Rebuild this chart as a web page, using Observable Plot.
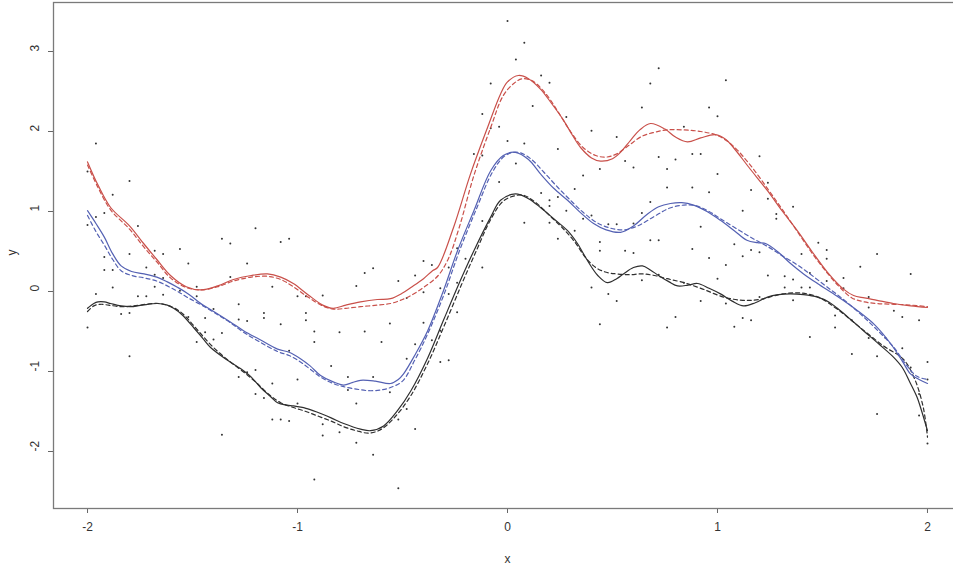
<!DOCTYPE html>
<html>
<head>
<meta charset="utf-8">
<script src="https://cdn.jsdelivr.net/npm/d3@7"></script>
<script src="https://cdn.jsdelivr.net/npm/@observablehq/plot@0.6"></script>
<style>
  html, body { margin: 0; padding: 0; background: #fff; overflow: hidden; }
  #chart svg { max-width: none !important; }
</style>
</head>
<body>
<div id="chart"></div>
<script>
// ---- tick labels ----
const xTicks = [-2, -1, 0, 1, 2];
const yTicks = [-2, -1, 0, 1, 2, 3];

// ---- scatter points [x, y] ----
const scatter = [
  [-1.96,1.85],[-2.0,1.5],[-1.8,1.38],[-1.88,1.21],[-1.92,0.98],[-1.96,0.93],[-2.0,0.83],[-1.76,0.82],
  [-1.8,0.47],[-1.92,0.43],[-1.88,0.27],[-1.92,0.27],[-1.72,0.3],[-1.68,0.51],[-1.64,0.47],[-1.56,0.53],
  [-1.52,0.35],[-1.68,0.21],[-1.88,0.05],[-1.68,0.06],[-1.64,0.17],[-1.56,0.01],[-1.48,0.06],[-1.36,0.66],
  [-1.32,0.6],[-1.2,0.79],[-1.24,0.35],[-1.32,0.18],[-1.08,0.62],[-1.04,0.66],[-1.12,0.06],[-1.0,-0.06],
  [-0.96,-0.06],[-1.96,-0.03],[-2.0,-0.45],[-1.84,-0.28],[-1.8,-0.27],[-1.76,-0.06],[-1.72,-0.06],[-1.64,-0.04],
  [-1.8,-0.81],[-1.48,-0.06],[-1.52,-0.32],[-1.44,-0.33],[-1.44,-0.51],[-1.48,-0.63],[-1.4,-0.6],[-1.36,-0.52],
  [-1.4,-0.22],[-1.36,-1.79],[-1.28,-0.16],[-1.28,-0.35],[-1.24,-0.37],[-1.28,-1.07],[-1.24,-1.01],[-1.2,-0.98],
  [-1.2,-1.28],[-1.16,-0.27],[-1.16,-0.33],[-1.16,-1.33],[-1.12,-1.15],[-1.08,-0.41],[-1.12,-1.6],[-1.08,-1.6],
  [-1.04,-1.62],[-1.04,-0.74],[-1.0,-1.1],[-0.96,-0.27],[-0.96,-0.36],[-0.92,-0.5],[-0.92,-0.63],[-0.92,-2.35],
  [-1.0,-1.4],
  [0.0,3.38],[0.08,3.11],[0.04,2.9],[-0.08,2.6],[0.16,2.7],[0.2,2.61],[0.12,2.32],[-0.12,2.22],
  [-0.08,2.04],[-0.04,2.06],[0.28,2.18],[0.4,2.01],[0.52,1.93],[-0.16,1.72],[-0.12,1.7],[0.0,1.88],
  [0.08,1.85],[0.04,1.6],[-0.04,1.37],[0.24,1.78],[0.36,1.45],[0.32,1.28],[0.44,1.53],[0.56,1.63],
  [0.16,1.23],[0.2,1.14],[0.24,1.18],[0.28,1.01],[0.32,0.76],[0.36,0.91],[0.4,0.95],[0.44,0.62],
  [0.48,0.84],[0.52,0.84],[0.56,0.51],[0.44,0.51],[0.08,0.86],[0.24,0.66],[0.2,0.86],[-0.24,0.54],
  [-0.2,0.41],[-0.12,0.3],[-0.4,0.38],[-0.44,0.2],[-0.52,0.13],[-0.64,0.29],[-0.68,0.23],[-0.72,0.07],
  [-0.88,-0.05],[0.4,0.05],[0.48,-0.03],[-0.36,0.33],[-0.4,-0.01],[-0.48,-0.08],[-0.32,0.04],[-0.28,-0.03],
  [-0.28,0.3],[-0.24,0.11],[-0.24,-0.26],[-0.56,-0.4],[-0.4,-0.39],[-0.68,-0.5],[-0.6,-0.63],[-0.44,-0.66],
  [-0.36,-0.61],[-0.32,-0.49],[-0.48,-0.84],[-0.32,-0.88],[-0.28,-0.86],[-0.64,-1.07],[-0.56,-1.26],[-0.48,-1.47],
  [-0.52,-1.6],[-0.44,-1.72],[-0.64,-2.04],[-0.52,-2.46],[0.44,-0.41],[0.52,-0.12],[0.64,0.14],[0.6,0.48],
  [-0.8,-0.51],[-0.84,-0.93],[-0.76,-1.07],[-0.72,-1.4],[-0.88,-1.8],[-0.8,-1.76],[-0.72,-1.89],[-0.76,-1.23],
  [-0.88,-1.66],[0.72,2.79],[0.68,2.6],[0.64,2.3],[0.72,1.68],[0.6,1.55],[0.68,1.12],[0.64,0.98],
  [0.6,0.85],[0.72,0.64],[0.68,0.64],[0.2,1.07],[-0.12,0.88],
  [1.04,2.64],[0.96,2.3],[1.0,2.19],[0.84,2.06],[0.8,1.65],[0.88,1.72],[0.92,1.72],[0.76,1.53],
  [1.0,1.47],[1.2,1.69],[0.76,1.3],[0.88,1.3],[0.96,1.24],[1.16,1.27],[1.24,1.36],[1.24,1.16],
  [1.36,1.06],[1.28,0.97],[1.28,0.91],[1.12,1.01],[0.92,0.81],[0.88,0.53],[0.96,0.42],[1.08,0.59],
  [1.12,0.44],[1.16,0.52],[1.2,0.49],[1.04,0.33],[1.0,0.16],[1.24,0.2],[1.32,0.19],[1.36,0.15],
  [1.4,0.47],[1.44,0.23],[1.48,0.61],[1.52,0.52],[1.52,0.41],[1.6,0.17],[1.76,0.47],[1.68,0.31],
  [1.92,0.22],[1.4,0.05],[1.44,0.05],[1.32,0.05],[1.52,0.13],[1.72,-0.07],[1.6,0.04],[1.72,-0.2],
  [1.84,-0.24],[1.88,-0.32],[1.96,-0.36],[0.92,-0.12],[0.8,-0.32],[0.76,-0.45],[1.12,-0.33],[1.16,-0.36],
  [1.08,-0.44],[1.04,-0.15],[1.36,-0.11],[1.44,-0.57],[1.56,-0.3],[1.56,-0.45],[1.64,-0.78],[1.72,-0.58],
  [1.76,-0.81],[1.8,-0.58],[1.88,-0.71],[1.92,-0.95],[2.0,-0.88],[2.0,-1.1],[1.76,-1.53],[1.96,-1.55],
  [2.0,-1.9],[1.96,-1.28],[0.72,0.21],[0.84,0.11],[1.2,-0.07],[1.64,-0.36]
];

// ---- fitted curves [x, y] ----
const redSolid = [
  [-2.0,1.62],[-1.95,1.33],[-1.89,1.05],[-1.8,0.82],[-1.733,0.6],[-1.67,0.4],[-1.605,0.2],[-1.53,0.06],
  [-1.46,0.02],[-1.38,0.07],[-1.305,0.15],[-1.22,0.2],[-1.143,0.22],[-1.08,0.18],[-1.02,0.1],[-0.95,-0.04],
  [-0.88,-0.17],[-0.83,-0.21],[-0.77,-0.17],[-0.7,-0.13],[-0.62,-0.1],[-0.557,-0.09],[-0.5,-0.02],[-0.46,0.05],
  [-0.4,0.16],[-0.357,0.26],[-0.333,0.3],[-0.257,0.8],[-0.176,1.47],[-0.095,2.05],[-0.033,2.47],[0.0,2.62],
  [0.052,2.7],[0.1,2.66],[0.157,2.53],[0.21,2.35],[0.267,2.14],[0.31,1.95],[0.348,1.8],[0.4,1.67],
  [0.443,1.63],[0.5,1.66],[0.538,1.74],[0.586,1.89],[0.63,2.02],[0.681,2.1],[0.75,2.03],[0.8,1.93],
  [0.857,1.87],[0.92,1.92],[0.99,1.96],[1.04,1.9],[1.076,1.8],[1.15,1.55],[1.238,1.26],[1.31,1.0],
  [1.38,0.76],[1.45,0.5],[1.524,0.24],[1.6,0.03],[1.648,-0.05],[1.7,-0.08],[1.76,-0.11],[1.838,-0.15],
  [1.92,-0.18],[2.0,-0.2]
];
const redDashed = [
  [-2.0,1.58],[-1.95,1.3],[-1.89,1.02],[-1.8,0.78],[-1.733,0.56],[-1.67,0.37],[-1.605,0.17],[-1.53,0.05],
  [-1.46,0.02],[-1.38,0.06],[-1.305,0.13],[-1.22,0.18],[-1.143,0.19],[-1.08,0.15],[-1.02,0.06],[-0.95,-0.07],
  [-0.88,-0.18],[-0.83,-0.22],[-0.77,-0.21],[-0.7,-0.19],[-0.62,-0.17],[-0.557,-0.15],[-0.5,-0.1],[-0.46,-0.05],
  [-0.4,0.05],[-0.33,0.2],[-0.28,0.42],[-0.23,0.8],[-0.16,1.45],[-0.08,2.05],[-0.02,2.45],[0.03,2.6],
  [0.07,2.66],[0.12,2.63],[0.18,2.48],[0.24,2.25],[0.3,2.0],[0.36,1.8],[0.42,1.7],[0.47,1.68],
  [0.52,1.72],[0.58,1.83],[0.64,1.94],[0.7,1.99],[0.76,2.02],[0.84,2.02],[0.92,2.0],[1.0,1.95],
  [1.07,1.83],[1.15,1.6],[1.24,1.28],[1.31,1.02],[1.38,0.75],[1.45,0.48],[1.52,0.24],[1.58,0.06],
  [1.64,-0.08],[1.7,-0.13],[1.76,-0.15],[1.84,-0.16],[1.92,-0.17],[2.0,-0.19]
];
const blueSolid = [
  [-2.0,1.01],[-1.96,0.85],[-1.92,0.68],[-1.88,0.47],[-1.84,0.32],[-1.79,0.25],[-1.73,0.22],[-1.67,0.18],
  [-1.62,0.12],[-1.57,0.05],[-1.52,-0.03],[-1.45,-0.17],[-1.38,-0.28],[-1.32,-0.38],[-1.257,-0.49],[-1.18,-0.6],
  [-1.095,-0.72],[-1.04,-0.76],[-0.986,-0.84],[-0.94,-0.93],[-0.89,-1.05],[-0.83,-1.13],[-0.78,-1.17],[-0.74,-1.14],
  [-0.7,-1.11],[-0.63,-1.12],[-0.557,-1.15],[-0.52,-1.1],[-0.495,-1.03],[-0.44,-0.79],[-0.38,-0.49],[-0.305,0.01],
  [-0.238,0.51],[-0.16,1.01],[-0.08,1.51],[-0.02,1.7],[0.038,1.74],[0.1,1.65],[0.157,1.47],[0.22,1.29],
  [0.286,1.14],[0.35,0.98],[0.41,0.85],[0.47,0.77],[0.538,0.74],[0.6,0.82],[0.667,0.97],[0.72,1.06],
  [0.776,1.1],[0.83,1.11],[0.886,1.08],[0.95,1.0],[1.014,0.89],[1.08,0.76],[1.14,0.64],[1.19,0.61],
  [1.229,0.6],[1.29,0.49],[1.348,0.35],[1.41,0.22],[1.476,0.1],[1.57,-0.06],[1.667,-0.24],[1.75,-0.42],
  [1.824,-0.65],[1.88,-0.87],[1.919,-1.03],[1.96,-1.1],[2.0,-1.15]
];
const blueDashed = [
  [-2.0,0.95],[-1.96,0.75],[-1.92,0.58],[-1.88,0.4],[-1.84,0.26],[-1.79,0.2],[-1.73,0.17],[-1.67,0.13],
  [-1.62,0.07],[-1.57,0.0],[-1.52,-0.08],[-1.45,-0.18],[-1.38,-0.29],[-1.32,-0.39],[-1.257,-0.51],[-1.18,-0.63],
  [-1.095,-0.75],[-1.04,-0.8],[-0.986,-0.88],[-0.94,-0.97],[-0.89,-1.07],[-0.83,-1.15],[-0.78,-1.19],[-0.72,-1.22],
  [-0.66,-1.24],[-0.6,-1.23],[-0.557,-1.2],[-0.5,-1.12],[-0.44,-0.85],[-0.38,-0.53],[-0.3,-0.02],[-0.23,0.5],
  [-0.15,1.02],[-0.07,1.5],[-0.01,1.7],[0.05,1.74],[0.11,1.66],[0.17,1.5],[0.24,1.3],[0.3,1.14],
  [0.36,0.99],[0.42,0.87],[0.48,0.8],[0.55,0.77],[0.62,0.82],[0.7,0.94],[0.77,1.04],[0.84,1.08],
  [0.9,1.07],[0.96,1.0],[1.02,0.9],[1.1,0.77],[1.17,0.66],[1.24,0.56],[1.3,0.46],[1.37,0.35],
  [1.44,0.22],[1.52,0.06],[1.6,-0.1],[1.68,-0.28],[1.76,-0.48],[1.84,-0.7],[1.9,-0.92],[1.95,-1.06],
  [2.0,-1.1]
];
const blackSolid = [
  [-2.0,-0.21],[-1.97,-0.15],[-1.95,-0.13],[-1.92,-0.13],[-1.89,-0.15],[-1.84,-0.18],[-1.795,-0.19],[-1.74,-0.17],
  [-1.667,-0.15],[-1.62,-0.17],[-1.59,-0.21],[-1.55,-0.29],[-1.495,-0.45],[-1.45,-0.59],[-1.414,-0.7],[-1.333,-0.86],
  [-1.257,-0.99],[-1.22,-1.07],[-1.176,-1.2],[-1.13,-1.31],[-1.095,-1.39],[-1.05,-1.42],[-1.019,-1.43],[-0.96,-1.46],
  [-0.905,-1.51],[-0.84,-1.58],[-0.78,-1.65],[-0.7,-1.72],[-0.652,-1.74],[-0.59,-1.68],[-0.524,-1.49],[-0.46,-1.24],
  [-0.38,-0.83],[-0.305,-0.36],[-0.224,0.14],[-0.16,0.51],[-0.08,0.93],[-0.033,1.14],[0.038,1.22],[0.1,1.16],
  [0.157,1.05],[0.22,0.91],[0.286,0.76],[0.333,0.6],[0.38,0.39],[0.43,0.2],[0.476,0.11],[0.52,0.16],
  [0.552,0.22],[0.6,0.3],[0.643,0.32],[0.68,0.27],[0.719,0.2],[0.77,0.12],[0.81,0.07],[0.86,0.08],
  [0.905,0.1],[0.96,0.04],[1.014,-0.03],[1.07,-0.12],[1.124,-0.18],[1.18,-0.14],[1.238,-0.07],[1.29,-0.04],
  [1.348,-0.03],[1.41,-0.04],[1.476,-0.07],[1.53,-0.13],[1.571,-0.21],[1.63,-0.34],[1.695,-0.49],[1.77,-0.66],
  [1.838,-0.82],[1.88,-0.95],[1.919,-1.15],[1.95,-1.32],[1.967,-1.45],[2.0,-1.74]
];
const blackDashed = [
  [-2.0,-0.25],[-1.97,-0.18],[-1.94,-0.16],[-1.9,-0.17],[-1.84,-0.19],[-1.78,-0.18],[-1.72,-0.16],[-1.66,-0.15],
  [-1.6,-0.19],[-1.55,-0.27],[-1.5,-0.41],[-1.45,-0.56],[-1.4,-0.7],[-1.33,-0.86],[-1.26,-1.0],[-1.2,-1.13],
  [-1.13,-1.3],[-1.08,-1.39],[-1.02,-1.45],[-0.96,-1.5],[-0.9,-1.56],[-0.84,-1.62],[-0.78,-1.69],[-0.72,-1.74],
  [-0.66,-1.77],[-0.6,-1.72],[-0.53,-1.55],[-0.46,-1.3],[-0.38,-0.9],[-0.3,-0.42],[-0.22,0.08],[-0.15,0.5],
  [-0.08,0.9],[-0.02,1.13],[0.04,1.2],[0.08,1.2],[0.14,1.1],[0.2,0.95],[0.26,0.8],[0.32,0.62],
  [0.37,0.43],[0.42,0.3],[0.47,0.24],[0.52,0.22],[0.58,0.21],[0.64,0.22],[0.7,0.2],[0.76,0.16],
  [0.84,0.11],[0.93,0.03],[1.03,-0.07],[1.12,-0.11],[1.2,-0.1],[1.31,-0.03],[1.4,-0.02],[1.48,-0.07],
  [1.57,-0.22],[1.67,-0.43],[1.79,-0.68],[1.886,-0.85],[1.94,-1.1],[1.98,-1.45],[2.0,-1.82]
];

const RED = "#c9504a", BLUE = "#5461b3", BLACK = "#2f2f2f";
const curveLine = (data, stroke, dashed) =>
  Plot.line(data, {
    x: d => d[0], y: d => d[1], stroke, strokeWidth: 1.2,
    strokeDasharray: dashed ? "4,3" : null, curve: "catmull-rom"
  });

const chart = Plot.plot({
  width: 961,
  height: 577,
  marginLeft: 53,
  marginRight: 0,
  marginTop: 2,
  marginBottom: 69,
  x: {domain: [-2.162, 2.162]},
  y: {domain: [-2.7125, 3.6125]},
  style: {fontFamily: "'Liberation Sans', Arial, sans-serif", fontSize: "12px", color: "#333", background: "#fff"},
  marks: [
    Plot.axisX(xTicks, {tickSize: 5, tickFormat: () => "", stroke: "#666", label: null}),
    Plot.axisY(yTicks, {tickSize: 5, tickFormat: () => "", stroke: "#666", label: null}),
    Plot.text(xTicks, {x: d => d, frameAnchor: "bottom", dy: 22, text: d => String(d), fill: "#333", fontSize: 12}),
    Plot.text(yTicks, {y: d => d, frameAnchor: "left", dx: -18, rotate: -90, text: d => String(d), fill: "#333", fontSize: 12}),
    Plot.text(["x"], {frameAnchor: "bottom", dy: 54, text: d => d, fill: "#333", fontSize: 12}),
    Plot.text(["y"], {frameAnchor: "left", dx: -41, rotate: -90, text: d => d, fill: "#333", fontSize: 12}),
    Plot.frame({stroke: "#7a7a7a", strokeWidth: 1.3}),
    Plot.dot(scatter, {x: d => d[0], y: d => d[1], r: 1, fill: "#333"}),
    curveLine(blackSolid, BLACK, false),
    curveLine(blackDashed, BLACK, true),
    curveLine(blueSolid, BLUE, false),
    curveLine(blueDashed, BLUE, true),
    curveLine(redSolid, RED, false),
    curveLine(redDashed, RED, true)
  ]
});
document.getElementById("chart").append(chart);
</script>
</body>
</html>
